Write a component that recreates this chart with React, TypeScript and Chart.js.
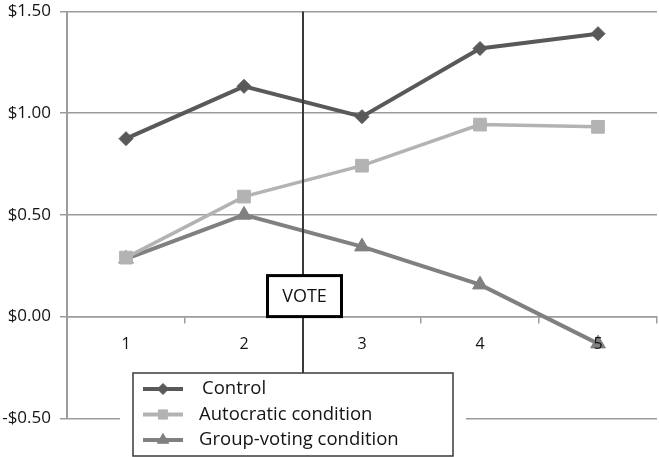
import React, { useEffect, useRef } from "react";
import { Chart, registerables } from "chart.js";
import { drawPoint } from "chart.js/helpers";

Chart.register(...registerables);

// Sessions on the x axis
const sessions = ["1", "2", "3", "4", "5"];

// Average amounts per session, in dollars
const controlValues = [0.875, 1.132, 0.983, 1.318, 1.391];
const autocraticValues = [0.29, 0.59, 0.742, 0.944, 0.933];
const groupVotingValues = [0.284, 0.5, 0.344, 0.157, -0.133];

const seriesNames = ["Control", "Autocratic condition", "Group-voting condition"];
const seriesColors = ["#595959", "#b3b3b3", "#808080"];
const seriesPointStyles = ["rectRot", "rect", "triangle"];

const yMin = -0.5;
const yMax = 1.5;
const yStep = 0.5;

const voteLabel = "VOTE";
const FONT = "'Open Sans', sans-serif";
const TEXT_COLOR = "#141414";
const GRID_COLOR = "#9c9c9c";

const formatDollars = (v: number) =>
  (v < 0 ? "-$" : "$") + Math.abs(v).toFixed(2);

// Vertical divider between sessions 2 and 3 plus the boxed "VOTE" label
const voteMarker = {
  id: "voteMarker",
  afterDatasetsDraw(chart: any) {
    const { ctx, chartArea, scales } = chart;
    const x = (scales.x.getPixelForValue(1) + scales.x.getPixelForValue(2)) / 2;
    ctx.save();
    ctx.strokeStyle = "#3a3a3a";
    ctx.lineWidth = 2;
    ctx.beginPath();
    ctx.moveTo(x, chartArea.top);
    ctx.lineTo(x, chart.height);
    ctx.stroke();
    ctx.restore();
  },
  afterDraw(chart: any) {
    const { ctx, scales } = chart;
    const x = (scales.x.getPixelForValue(1) + scales.x.getPixelForValue(2)) / 2;
    const bottom = scales.y.getPixelForValue(0);
    const w = 74;
    const h = 41;
    const left = x - w / 2 + 1.5;
    const top = bottom - h;
    ctx.save();
    ctx.fillStyle = "#ffffff";
    ctx.fillRect(left, top, w, h);
    ctx.strokeStyle = "#000000";
    ctx.lineWidth = 3;
    ctx.strokeRect(left, top, w, h);
    ctx.fillStyle = TEXT_COLOR;
    ctx.font = `18px ${FONT}`;
    ctx.textAlign = "center";
    ctx.textBaseline = "middle";
    ctx.fillText(voteLabel, left + w / 2, top + h / 2 + 1);
    ctx.restore();
  },
};

// Boxed legend sitting over the lower part of the plot
const boxedLegend = {
  id: "boxedLegend",
  afterDraw(chart: any) {
    const { ctx } = chart;
    const boxL = 133;
    const boxT = 373;
    const boxR = 453;
    const boxB = 456;
    ctx.save();
    ctx.fillStyle = "#ffffff";
    ctx.fillRect(boxL - 13, boxT, boxR - boxL + 26, chart.height - boxT);
    ctx.strokeStyle = "#3a3a3a";
    ctx.lineWidth = 1.5;
    ctx.strokeRect(boxL, boxT, boxR - boxL, boxB - boxT);

    const rowY = [389, 414.5, 440];
    const markerR = [5.5, 6.5, 6.5];
    chart.data.datasets.forEach((ds: any, i: number) => {
      const y = rowY[i];
      ctx.strokeStyle = ds.borderColor;
      ctx.lineWidth = 4;
      ctx.beginPath();
      ctx.moveTo(143, y);
      ctx.lineTo(183, y);
      ctx.stroke();
      ctx.fillStyle = ds.borderColor;
      ctx.strokeStyle = ds.borderColor;
      ctx.lineWidth = 1;
      drawPoint(ctx, { pointStyle: ds.pointStyle, radius: markerR[i], borderWidth: 1, rotation: 0 }, 163, y);
      ctx.fillStyle = TEXT_COLOR;
      ctx.font = `18.5px ${FONT}`;
      ctx.textAlign = "left";
      ctx.textBaseline = "middle";
      ctx.fillText(ds.label, i === 0 ? 202 : 199, y);
    });
    ctx.restore();
  },
};

const noScalePadding = (scale: any) => {
  scale.paddingTop = 0;
  scale.paddingBottom = 0;
  scale.paddingLeft = 0;
  scale.paddingRight = 0;
};

export default function App() {
  const canvasRef = useRef<HTMLCanvasElement | null>(null);

  useEffect(() => {
    const canvas = canvasRef.current;
    if (!canvas) return;
    const valueSets = [controlValues, autocraticValues, groupVotingValues];
    const radii = [7, 9, 8.5];
    const chart = new Chart(canvas, {
      type: "line",
      data: {
        labels: sessions,
        datasets: valueSets.map((values, i) => ({
          label: seriesNames[i],
          data: values,
          borderColor: seriesColors[i],
          backgroundColor: seriesColors[i],
          borderWidth: i === 1 ? 3.5 : 4,
          pointStyle: seriesPointStyles[i] as any,
          pointRadius: radii[i],
          pointBorderWidth: 1,
          pointBackgroundColor: seriesColors[i],
          pointBorderColor: seriesColors[i],
          tension: 0,
          fill: false,
          clip: false as any,
        })),
      },
      options: {
        responsive: false,
        animation: false,
        events: [],
        layout: { autoPadding: false, padding: { left: 0, right: 2, top: 11.5, bottom: 38.7 } },
        plugins: {
          legend: { display: false },
          tooltip: { enabled: false },
          title: { display: false },
        },
        scales: {
          x: {
            type: "category",
            offset: true,
            position: { y: 0 } as any,
            afterFit: noScalePadding,
            grid: {
              drawOnChartArea: false,
              drawTicks: true,
              tickLength: 6,
              color: GRID_COLOR,
              lineWidth: 1.5,
              offset: true,
            },
            border: { display: true, color: GRID_COLOR, width: 1.5 },
            ticks: {
              z: 1,
              color: TEXT_COLOR,
              font: { family: FONT, size: 16 },
              padding: 12,
              maxRotation: 0,
              autoSkip: false,
            },
          },
          y: {
            min: yMin,
            max: yMax,
            afterFit(scale: any) {
              scale.width = 67;
              noScalePadding(scale);
            },
            grid: {
              color: GRID_COLOR,
              lineWidth: 1.5,
              tickLength: 7,
            },
            border: { display: true, color: GRID_COLOR, width: 2 },
            ticks: {
              stepSize: yStep,
              color: TEXT_COLOR,
              font: { family: FONT, size: 17 },
              padding: 9,
              callback: (v: any) => formatDollars(Number(v)),
            },
          },
        },
      },
      plugins: [voteMarker, boxedLegend],
    });
    return () => chart.destroy();
  }, []);

  return (
    <div style={{ position: "absolute", left: 0, top: 0, width: 659, height: 457, background: "#ffffff" }}>
      <canvas ref={canvasRef} width={659} height={457} style={{ display: "block" }} />
    </div>
  );
}
